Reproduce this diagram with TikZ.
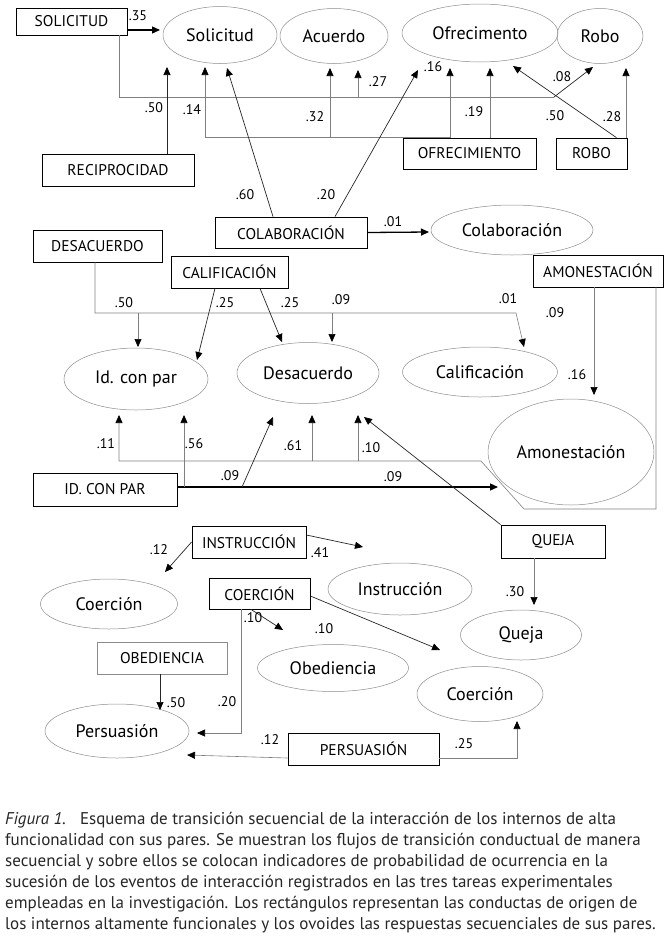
\documentclass[tikz,border=0pt]{standalone}
\usepackage{fontspec}
\setmainfont{PT Sans}
\usetikzlibrary{shapes.geometric,arrows.meta}
\tikzset{
caja/.style={draw,line width=0.8pt,inner sep=0pt,font=\fontsize{15.5}{17}\selectfont},
ovo/.style={ellipse,draw=black!45,line width=0.5pt,inner sep=0pt,font=\fontsize{18}{20}\selectfont},
num/.style={inner sep=0pt,font=\fontsize{14}{15}\selectfont},
gris/.style={draw=black!50,line width=0.6pt},
neg/.style={draw=black!85,line width=0.7pt},
grueso/.style={draw=black,line width=1.3pt},
fl/.style={-{Triangle[length=8pt,width=7pt,color=black]}}
}
\begin{document}
\begin{tikzpicture}[x=1pt,y=-1pt]
\useasboundingbox (0,0) rectangle (672,940);
\node[caja,minimum width=111pt,minimum height=27pt] (bSol) at (71.5,21.5) {SOLICITUD};
\node[caja,minimum width=152pt,minimum height=32pt] (bRec) at (118,170) {RECIPROCIDAD};
\node[caja,minimum width=133pt,minimum height=31pt] (bOfr) at (469.5,153.5) {OFRECIMIENTO};
\node[caja,minimum width=71pt,minimum height=31pt] (bRob) at (591.5,153.5) {ROBO};
\node[caja,minimum width=152pt,minimum height=31pt] (bCol) at (291,232.5) {COLABORACIÓN};
\node[caja,minimum width=129pt,minimum height=32pt] (bDes) at (97.5,246) {DESACUERDO};
\node[caja,minimum width=117pt,minimum height=32pt] (bCal) at (229.5,272) {CALIFICACIÓN};
\node[caja,minimum width=130pt,minimum height=32pt] (bAmo) at (598,271) {AMONESTACIÓN};
\node[caja,minimum width=144pt,minimum height=33pt] (bId) at (105,489.5) {ID. CON PAR};
\node[caja,minimum width=104pt,minimum height=33pt] (bQue) at (553,541.5) {QUEJA};
\node[caja,minimum width=114pt,minimum height=32pt] (bIns) at (249,542) {INSTRUCCIÓN};
\node[caja,minimum width=101pt,minimum height=31pt] (bCoe) at (259.5,593.5) {COERCIÓN};
\node[caja,draw=black!45,minimum width=130pt,minimum height=32pt] (bObe) at (162,658) {OBEDIENCIA};
\node[caja,minimum width=151pt,minimum height=32pt] (bPer) at (363.5,749) {PERSUASIÓN};
\node[ovo,minimum width=114pt,minimum height=57pt] (eSol) at (220,35) {Solicitud};
\node[ovo,minimum width=108pt,minimum height=55pt] (eAcu) at (334,36) {Acuerdo};
\node[ovo,minimum width=156pt,minimum height=58pt] (eOfr) at (480,33) {Ofrecimento};
\node[ovo,minimum width=86pt,minimum height=55pt] (eRob) at (600,36) {Robo};
\node[ovo,minimum width=162pt,minimum height=50pt] (eCol) at (512,230) {Colaboración};
\node[ovo,minimum width=144pt,minimum height=62pt] (eId) at (136,379) {Id. con par};
\node[ovo,minimum width=142pt,minimum height=61pt] (eDes) at (308,373) {Desacuerdo};
\node[ovo,minimum width=155pt,minimum height=50pt] (eCal) at (480,372) {Calificación};
\node[ovo,minimum width=166pt,minimum height=106pt] (eAmo) at (571,452) {Amonestación};
\node[ovo,minimum width=121pt,minimum height=50pt] (eQue) at (521,635) {Queja};
\node[ovo,minimum width=137pt,minimum height=50pt] (eCoeL) at (109,604) {Coerción};
\node[ovo,minimum width=144pt,minimum height=52pt] (eIns) at (400,589) {Instrucción};
\node[ovo,minimum width=151pt,minimum height=47pt] (eObe) at (333,668) {Obediencia};
\node[ovo,minimum width=126pt,minimum height=55pt] (eCoeR) at (480,694) {Coerción};
\node[ovo,minimum width=144pt,minimum height=54pt] (ePer) at (117,731) {Persuasión};
\coordinate (tSol) at (160,30);
\coordinate (s1) at (119,97);
\coordinate (s2) at (554,97);
\coordinate (sA) at (358,97);
\coordinate (tRob1) at (593,67);
\coordinate (tAcu2) at (358,70);
\draw[grueso,fl] (bSol.east |- tSol) -- (tSol);
\draw[gris] (bSol.south -| s1) -- (s1) -- (s2);
\draw[neg,fl] (s2) -- (tRob1);
\draw[gris,fl] (sA) -- (tAcu2);
\coordinate (tSol2) at (167,67);
\draw[neg,fl] (bRec.north -| tSol2) -- (tSol2);
\coordinate (tOfr1) at (450,68);
\coordinate (tOfr2) at (490,68);
\coordinate (o1) at (bOfr.north -| tOfr1);
\coordinate (o2) at (205,137);
\coordinate (tSol3) at (205,67);
\coordinate (tAcu1) at (330,68);
\coordinate (oA) at (o2 -| tAcu1);
\draw[gris,fl] (o1) -- (tOfr1);
\draw[gris,fl] (bOfr.north -| tOfr2) -- (tOfr2);
\draw[gris,fl] (o1) -- (o1 |- o2) -- (o2) -- (tSol3);
\draw[gris,fl] (oA) -- (tAcu1);
\coordinate (tRob2) at (626,68);
\coordinate (tOfr3) at (513,66);
\draw[gris,fl] (bRob.north -| tRob2) -- (tRob2);
\draw[neg,fl] ([xshift=-11pt]bRob.north east) -- (tOfr3);
\coordinate (tSol4) at (227,68);
\coordinate (tOfr4) at (418,70);
\coordinate (tCol) at (429,232);
\draw[neg,fl] ([xshift=-18pt]bCol.north) -- (tSol4);
\draw[neg,fl] ([xshift=44pt]bCol.north) -- (tOfr4);
\draw[grueso,fl] (bCol.east) -- (tCol);
\coordinate (d1) at (95,313);
\coordinate (d2) at (516,313);
\coordinate (tCal) at (524,347);
\coordinate (tId1) at (138,347);
\coordinate (tDes1) at (332,342);
\draw[gris,fl] (bDes.south -| d1) -- (d1) -- (d2) -- (tCal);
\draw[gris,fl] (d1 -| tId1) -- (tId1);
\draw[gris,fl] (d1 -| tDes1) -- (tDes1);
\coordinate (tId2) at (197,360);
\coordinate (tDes2) at (282,342);
\draw[neg,fl] ([xshift=-14.5pt]bCal.south) -- (tId2);
\draw[neg,fl] ([xshift=30.5pt]bCal.south) -- (tDes2);
\coordinate (tAmo) at (594,395);
\coordinate (a1) at (656,509);
\coordinate (a2) at (524,509);
\coordinate (a3) at (481,461);
\coordinate (a4) at (119,461);
\coordinate (tId3) at (119,415);
\coordinate (tDes3) at (312,415);
\coordinate (tDes4) at (358,415);
\draw[gris,fl] (bAmo.south -| tAmo) -- (tAmo);
\draw[gris,fl] (bAmo.south -| a1) -- (a1) -- (a2) -- (a3) -- (a4) -- (tId3);
\draw[gris,fl] (a4 -| tDes3) -- (tDes3);
\draw[gris,fl] (a4 -| tDes4) -- (tDes4);
\coordinate (tAmo2) at (498,487);
\coordinate (tId4) at (184,415);
\coordinate (i1) at (242,487);
\coordinate (tDes5) at (273,417);
\draw[grueso,fl] (bId.east |- tAmo2) -- (tAmo2);
\draw[gris,fl] (tAmo2 -| tId4) -- (tId4);
\draw[neg,fl] (i1) -- (tDes5);
\coordinate (tDes6) at (364,417);
\coordinate (tQue) at (534,605);
\draw[neg,fl] (bQue.north west) -- (tDes6);
\draw[gris,fl] (bQue.south -| tQue) -- (tQue);
\coordinate (tCoeL) at (165,572);
\coordinate (tIns) at (363,547);
\draw[neg,fl] (bIns.west) -- (tCoeL);
\draw[neg,fl] ([yshift=7pt]bIns.east) -- (tIns);
\coordinate (tObe) at (283,630);
\coordinate (tCoeR) at (440,650);
\coordinate (c1) at (241,733);
\coordinate (tPer1) at (197,733);
\draw[neg,fl] ([xshift=-8.5pt]bCoe.south) -- (tObe);
\draw[neg,fl] ([yshift=-2.5pt]bCoe.east) -- (tCoeR);
\draw[gris,fl] (bCoe.south -| c1) -- (c1) -- (tPer1);
\coordinate (tPer2) at (160,710);
\draw[neg,fl] (bObe.south -| tPer2) -- (tPer2);
\coordinate (tPer3) at (187,755);
\coordinate (p1) at (517,758);
\coordinate (tCoeR2) at (517,721);
\draw[gris,fl] ([yshift=-9pt]bPer.west) -- (tPer3);
\draw[gris,fl] ([yshift=-9pt]bPer.east) -- (p1) -- (tCoeR2);
\node[num] (n01) at (138,16) {.35};
\node[num] (n02) at (378,82) {.27};
\node[num] (n03) at (562,77) {.08};
\node[num] (n04) at (154,108) {.50};
\node[num] (n05) at (192,110) {.14};
\node[num] (n06) at (315,117) {.32};
\node[num] (n07) at (474,112) {.19};
\node[num] (n08) at (433,67) {.16};
\node[num] (n09) at (555,116) {.50};
\node[num] (n10) at (612,117) {.28};
\node[num] (n11) at (245,195) {.60};
\node[num] (n12) at (326,195) {.20};
\node[num] (n13) at (393,222) {.01};
\node[num] (n14) at (124,303) {.50};
\node[num] (n15) at (225,303) {.25};
\node[num] (n16) at (290,303) {.25};
\node[num] (n17) at (341,300) {.09};
\node[num] (n18) at (508,299) {.01};
\node[num] (n19) at (555,313) {.09};
\node[num] (n20) at (577,375) {.16};
\node[num] (n21) at (106,444) {.11};
\node[num] (n22) at (194,444) {.56};
\node[num] (n23) at (293,446) {.61};
\node[num] (n24) at (371,448) {.10};
\node[num] (n25) at (230,476) {.09};
\node[num] (n26) at (393,477) {.09};
\node[num] (n27) at (515,592) {.30};
\node[num] (n28) at (159,550) {.12};
\node[num] (n29) at (320,553) {.41};
\node[num] (n30) at (253,618) {.10};
\node[num] (n31) at (324,629) {.10};
\node[num] (n32) at (227,702) {.20};
\node[num] (n33) at (176,703) {.50};
\node[num] (n34) at (270,740) {.12};
\node[num] (n35) at (464,744) {.25};
\node[anchor=north west,align=left,inner sep=0pt,text=black!85,font=\fontsize{17}{21}\selectfont] (pie) at (5,812) {\textit{Figura 1.}\hspace{14pt}Esquema de transición secuencial de la interacción de los internos de alta\\funcionalidad con sus pares. Se muestran los flujos de transición conductual de manera\\secuencial y sobre ellos se colocan indicadores de probabilidad de ocurrencia en la\\sucesión de los eventos de interacción registrados en las tres tareas experimentales\\empleadas en la investigación. Los rectángulos representan las conductas de origen de\\los internos altamente funcionales y los ovoides las respuestas secuenciales de sus pares.};
\end{tikzpicture}
\end{document}
